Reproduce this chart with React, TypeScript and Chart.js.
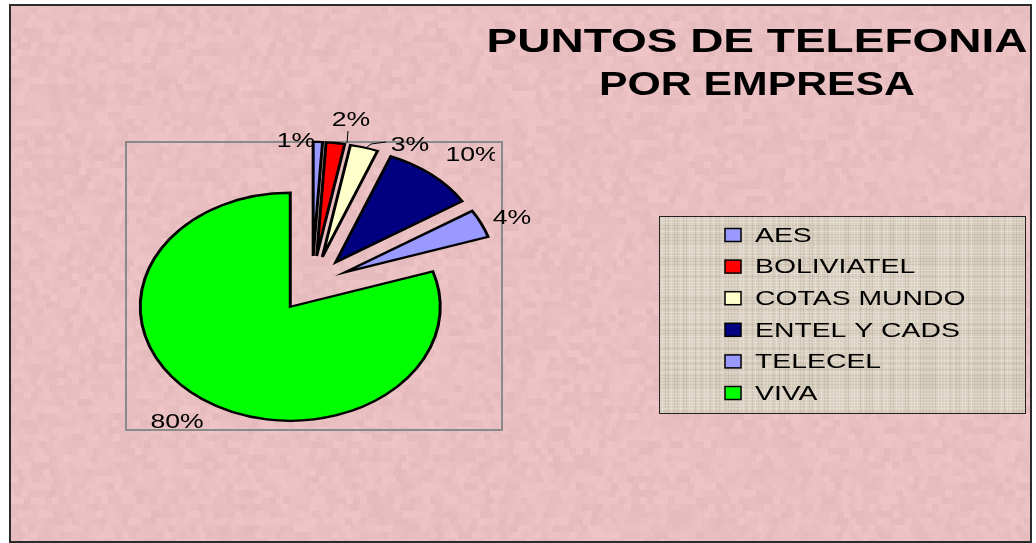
import React, { useEffect, useRef } from "react";
import { Chart, registerables } from "chart.js";

Chart.register(...registerables);

// ---- data ----
const companies = ["AES", "BOLIVIATEL", "COTAS MUNDO", "ENTEL Y CADS", "TELECEL", "VIVA"];
const shares = [1, 2, 3, 10, 4, 80];
const sliceColors = ["#9999ff", "#ff0000", "#ffffcc", "#000080", "#9999ff", "#00ff00"];
const pctLabels = ["1%", "2%", "3%", "10%", "4%", "80%"];
const titleLines = ["PUNTOS DE TELEFONIA", "POR EMPRESA"];

// ---- layout ----
const W = 1036;
const H = 543;
const PIE_R = 150;
const EXPLODE_PX = 37; // distance each slice is pulled out along its bisector
const SQUASH = 0.76;
const SX = 1.33; // horizontal stretch of text
const labelPos: [number, number][] = [
  [296, 141],
  [351, 120],
  [410, 145],
  [472, 155],
  [512, 218],
  [177, 422],
];
const labelClip = [0, 0, 0, 495, 0, 0];

function hash(i: number, j: number) {
  const s = Math.sin(i * 12.9898 + j * 78.233) * 43758.5453;
  return s - Math.floor(s);
}

function stretchedText(
  ctx: CanvasRenderingContext2D,
  text: string,
  x: number,
  y: number,
  font: string,
  sx: number,
  align: CanvasTextAlign,
  baseline: CanvasTextBaseline = "middle"
) {
  ctx.save();
  ctx.font = font;
  ctx.translate(x, y);
  ctx.scale(sx, 1);
  ctx.textAlign = align;
  ctx.textBaseline = baseline;
  ctx.fillStyle = "#000";
  ctx.fillText(text, 0, 0);
  ctx.restore();
}

const decorPlugin = {
  id: "decor",
  beforeDraw(chart: any) {
    const ctx: CanvasRenderingContext2D = chart.ctx;
    ctx.save();
    ctx.fillStyle = "#ffffff";
    ctx.fillRect(0, 0, W, H);
    // pink textured background
    ctx.fillStyle = "#e9bfc0";
    ctx.fillRect(10, 5, 1021, 536);
    const bs = 7;
    for (let i = 1; i < 150; i++) {
      for (let j = 0; j < 79; j++) {
        const h = hash(i, j);
        const d = Math.round((h - 0.5) * 10);
        ctx.fillStyle = `rgb(${234 + d},${191 + d},${193 + d})`;
        ctx.fillRect(i * bs + ((j * 3) % 5), j * bs, bs + 2, bs);
      }
    }
    ctx.fillStyle = "#ffffff";
    ctx.fillRect(1032, 0, 10, H);
    ctx.fillRect(0, 0, 10, H);
    ctx.fillRect(0, 0, W, 5);
    ctx.strokeStyle = "#2b2b2b";
    ctx.lineWidth = 2;
    ctx.strokeRect(10, 5, 1021, 537);

    // plot area frame
    ctx.strokeStyle = "#8a8a8a";
    ctx.lineWidth = 2;
    ctx.strokeRect(126, 142, 376, 288);

    // title
    const tFont = "bold 34px 'Liberation Sans', Arial, sans-serif";
    ctx.font = tFont;
    const targets = [541, 316];
    const baselines = [52, 95];
    titleLines.forEach((t, k) => {
      const m = ctx.measureText(t).width;
      stretchedText(ctx, t, 757, baselines[k], tFont, targets[k] / m, "center", "alphabetic");
    });

    // legend box
    const lx = 659, ly = 216, lw = 366, lh = 197;
    ctx.fillStyle = "#d8cfc0";
    ctx.fillRect(lx, ly, lw, lh);
    for (let x = lx; x < lx + lw; x += 3) {
      const h = hash(x, 7);
      ctx.fillStyle = h > 0.5 ? "rgba(255,255,245,0.25)" : "rgba(150,135,115,0.18)";
      ctx.fillRect(x, ly, 1, lh);
    }
    for (let y = ly; y < ly + lh; y += 3) {
      const h = hash(3, y);
      ctx.fillStyle = h > 0.5 ? "rgba(255,255,245,0.22)" : "rgba(150,135,115,0.15)";
      ctx.fillRect(lx, y, lw, 1);
    }
    ctx.strokeStyle = "#222";
    ctx.lineWidth = 1;
    ctx.strokeRect(lx + 0.5, ly + 0.5, lw, lh);
    const labels: string[] = chart.data.labels;
    const colors: string[] = chart.data.datasets[0].backgroundColor;
    labels.forEach((lab, i) => {
      const cy = 235 + i * 31.6;
      ctx.fillStyle = colors[i];
      ctx.fillRect(725, cy - 6.5, 16, 13);
      ctx.strokeStyle = "#000";
      ctx.lineWidth = 1.5;
      ctx.strokeRect(725, cy - 6.5, 16, 13);
      stretchedText(ctx, lab, 755, cy + 1, "21px 'Liberation Sans', Arial, sans-serif", 1.35, "left");
    });
    ctx.restore();
  },
  beforeDatasetsDraw(chart: any) {
    const ctx: CanvasRenderingContext2D = chart.ctx;
    // percentage labels (drawn beneath slices)
    pctLabels.forEach((t, i) => {
      const [x, y] = labelPos[i];
      ctx.save();
      if (labelClip[i]) {
        ctx.beginPath();
        ctx.rect(0, 0, labelClip[i], H);
        ctx.clip();
      }
      stretchedText(ctx, t, x, y, "20px 'Liberation Sans', Arial, sans-serif", SX, "center");
      ctx.restore();
    });
    // leader lines
    ctx.save();
    ctx.strokeStyle = "#000";
    ctx.lineWidth = 1;
    ctx.beginPath();
    ctx.moveTo(348, 131);
    ctx.lineTo(347, 143);
    ctx.moveTo(386, 142);
    ctx.lineTo(371, 144);
    ctx.lineTo(366, 148);
    ctx.stroke();
    ctx.restore();

    // explode every slice along its bisector (without Chart.js' angle shrink)
    const area = chart.chartArea;
    const cx = (area.left + area.right) / 2;
    const cy = (area.top + area.bottom) / 2;
    const meta = chart.getDatasetMeta(0);
    meta.data.forEach((arc: any) => {
      const mid = (arc.startAngle + arc.endAngle) / 2;
      arc.x = cx + Math.cos(mid) * EXPLODE_PX;
      arc.y = cy + Math.sin(mid) * EXPLODE_PX;
    });
    ctx.save();
    ctx.translate(cx, cy);
    ctx.scale(1, SQUASH);
    ctx.translate(-cx, -cy);
  },
  afterDatasetsDraw(chart: any) {
    chart.ctx.restore();
  },
};

export default function App() {
  const ref = useRef<HTMLCanvasElement | null>(null);
  useEffect(() => {
    if (!ref.current) return;
    const chart = new Chart(ref.current, {
      type: "pie",
      data: {
        labels: companies,
        datasets: [
          {
            data: shares,
            backgroundColor: sliceColors,
            borderColor: "#000000",
            borderWidth: 3,
            borderJoinStyle: "miter",
          } as any,
        ],
      },
      options: {
        animation: false,
        responsive: false,
        events: [],
        radius: PIE_R,
        layout: { padding: { left: 0, right: 412, top: 25, bottom: 0 } },
        plugins: {
          legend: { display: false },
          title: { display: false },
          tooltip: { enabled: false },
        },
      } as any,
      plugins: [decorPlugin],
    });
    return () => chart.destroy();
  }, []);
  return (
    <div style={{ position: "fixed", left: 0, top: 0, width: W, height: H }}>
      <canvas ref={ref} width={W} height={H} style={{ display: "block", width: W, height: H }} />
    </div>
  );
}
